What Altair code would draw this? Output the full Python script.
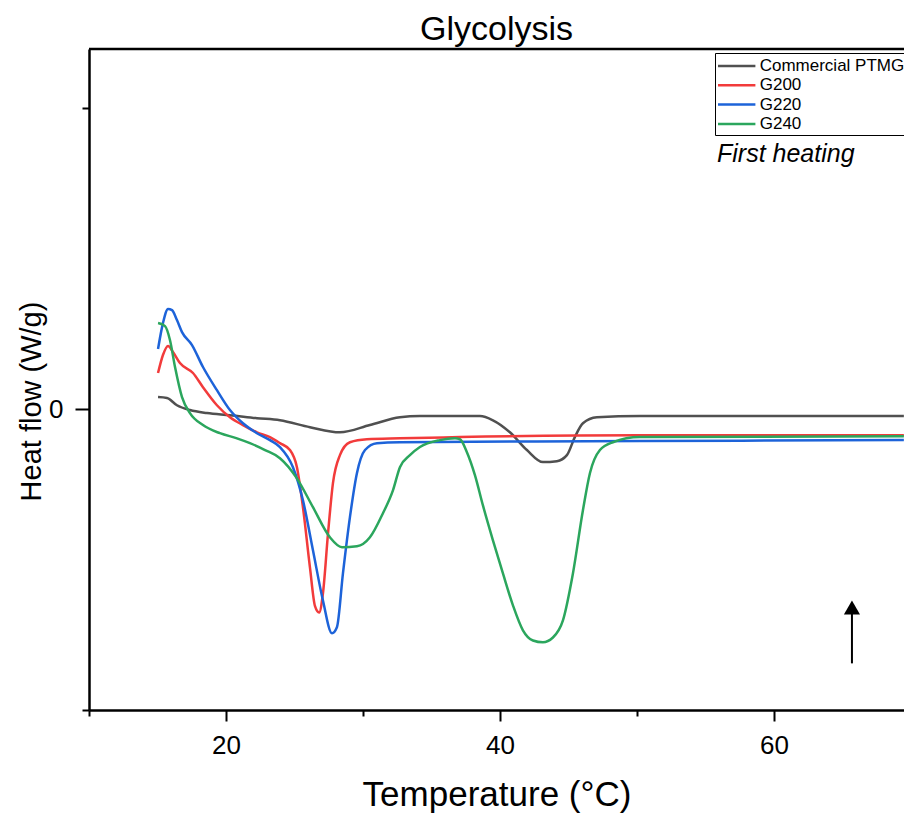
import altair as alt
import pandas as pd

title_text = "Glycolysis"
x_title = "Temperature (°C)"
y_title = "Heat flow (W/g)"
note_text = "First heating"

series_names = ["Commercial PTMG", "G200", "G220", "G240"]
series_colors = ["#505050", "#f23b3b", "#1d63d9", "#2ba65d"]

ptmg_t = [15.04, 15.69, 16.42, 17.37, 18.61, 20.29, 22.26, 23.94, 26.13, 28.32, 30.51, 32.70,
          34.16, 37.08, 38.54, 39.49, 40.73, 41.97, 43.14, 44.16, 44.89, 45.47, 46.06, 47.08,
          50.22, 69.49]
ptmg_hf = [0.040, 0.037, 0.013, -0.003, -0.013, -0.020, -0.030, -0.037, -0.060, -0.077, -0.053,
           -0.027, -0.023, -0.023, -0.023, -0.037, -0.077, -0.136, -0.176, -0.173, -0.153,
           -0.093, -0.047, -0.027, -0.023, -0.023]

g200_t = [15.04, 15.40, 15.77, 16.13, 16.64, 17.59, 18.32, 19.34, 20.29, 21.24, 22.26, 23.21,
          23.94, 24.67, 25.18, 25.62, 26.13, 26.50, 26.80, 27.08, 27.45, 27.81, 28.32, 29.05,
          30.29, 32.70, 37.08, 50.22, 69.49]
g200_hf = [0.120, 0.180, 0.210, 0.190, 0.153, 0.120, 0.073, 0.013, -0.027, -0.053, -0.077,
           -0.093, -0.113, -0.136, -0.193, -0.326, -0.526, -0.655, -0.676, -0.612, -0.413,
           -0.246, -0.153, -0.110, -0.100, -0.097, -0.093, -0.087, -0.087]

g220_t = [15.04, 15.40, 15.77, 16.06, 16.42, 16.79, 17.52, 18.32, 19.34, 20.29, 21.24, 22.26,
          23.21, 23.94, 24.89, 25.62, 26.35, 27.08, 27.74, 28.10, 28.54, 29.05, 29.56, 30.15,
          31.02, 32.70, 50.22, 69.49]
g220_hf = [0.200, 0.286, 0.333, 0.329, 0.296, 0.256, 0.213, 0.140, 0.063, -0.003, -0.047,
           -0.080, -0.103, -0.126, -0.193, -0.303, -0.469, -0.636, -0.745, -0.725, -0.546,
           -0.359, -0.213, -0.136, -0.113, -0.110, -0.106, -0.103]

g240_t = [15.04, 15.55, 15.91, 16.28, 16.79, 17.37, 18.32, 19.56, 20.80, 21.75, 22.85, 23.94,
          25.18, 26.35, 27.59, 28.47, 29.56, 30.51, 31.46, 32.19, 32.70, 33.43, 34.16, 35.62,
          36.72, 37.08, 37.59, 38.18, 38.76, 39.49, 40.22, 40.95, 41.68, 42.41, 43.14, 43.87,
          44.60, 45.33, 46.06, 46.57, 47.30, 48.25, 50.22, 69.49]
g240_hf = [0.286, 0.276, 0.230, 0.140, 0.040, -0.013, -0.053, -0.080, -0.097, -0.113, -0.136,
           -0.163, -0.230, -0.326, -0.426, -0.459, -0.456, -0.426, -0.346, -0.270, -0.193,
           -0.153, -0.126, -0.103, -0.097, -0.100, -0.143, -0.220, -0.320, -0.436, -0.546,
           -0.652, -0.735, -0.769, -0.775, -0.759, -0.702, -0.546, -0.336, -0.213, -0.136,
           -0.110, -0.093, -0.090]

# annotation arrow (data units)
arrow_t = [65.7]
arrow_y_start = [-0.845]
arrow_y_end = [-0.675]
arrow_head_y = [-0.659]

x_domain = [10, 69.5]
y_domain = [-1, 1.197]
x_ticks = [10, 20, 30, 40, 50, 60]
y_ticks = [-1, 0, 1]

rows = []
for name, ts, hs in zip(series_names, [ptmg_t, g200_t, g220_t, g240_t],
                        [ptmg_hf, g200_hf, g220_hf, g240_hf]):
    for i, (t, h) in enumerate(zip(ts, hs)):
        rows.append({"series": name, "T": t, "HF": h, "i": i})
df = pd.DataFrame(rows)

arrow_df = pd.DataFrame({"T": arrow_t, "y1": arrow_y_start, "y2": arrow_y_end, "yh": arrow_head_y})

W, H = 815, 661
FONT = "Liberation Sans"

x_scale = alt.Scale(domain=x_domain, nice=False, zero=False)
y_scale = alt.Scale(domain=y_domain, nice=False, zero=False)

x_axis = alt.Axis(
    title=x_title, values=x_ticks, grid=False,
    labelExpr="datum.value % 20 === 0 ? datum.label : ''",
    tickSize=alt.condition("datum.value % 20 === 0", alt.value(11), alt.value(6)),
    tickWidth=2, tickColor="black", domainColor="black", domainWidth=2.5,
    labelFont=FONT, labelFontSize=26, labelColor="black", labelPadding=11,
    titleFont=FONT, titleFontSize=35, titleFontWeight="normal", titleColor="black",
    titlePadding=19,
)
y_axis = alt.Axis(
    title=y_title, values=y_ticks, grid=False,
    labelExpr="datum.value === 0 ? '0' : ''",
    tickSize=alt.condition("datum.value === 0", alt.value(14), alt.value(7)),
    tickWidth=2, tickColor="black", domainColor="black", domainWidth=2.5,
    labelFont=FONT, labelFontSize=26, labelColor="black", labelPadding=12,
    titleFont=FONT, titleFontSize=29, titleFontWeight="normal", titleColor="black",
    titlePadding=2, titleY=352,
)

lines = alt.Chart(df).mark_line(strokeWidth=2.5, interpolate="monotone").encode(
    x=alt.X("T:Q", scale=x_scale, axis=x_axis),
    y=alt.Y("HF:Q", scale=y_scale, axis=y_axis),
    color=alt.Color(
        "series:N",
        scale=alt.Scale(domain=series_names, range=series_colors),
        legend=alt.Legend(
            title=None, orient="none", legendX=626, legendY=4,
            symbolType="M-2.2,0H2.2", symbolSize=289, symbolStrokeWidth=2.5,
            symbolOffset=8.7, labelOffset=13,
            labelFont=FONT, labelFontSize=17, labelColor="black",
            padding=3, rowPadding=1.3, strokeColor="black", fillColor="white",
        ),
    ),
    order="i:Q",
)

top_rule = alt.Chart(pd.DataFrame({"k": [0]})).mark_rule(color="black", strokeWidth=2.5).encode(
    x=alt.value(0), x2=alt.value(W), y=alt.value(0)
)

note = alt.Chart(pd.DataFrame({"k": [0]})).mark_text(
    text=note_text, font=FONT, fontSize=25, fontStyle="italic", align="left",
    baseline="alphabetic", color="black"
).encode(x=alt.value(628), y=alt.value(113))

arrow_line = alt.Chart(arrow_df).mark_rule(color="black", strokeWidth=2).encode(
    x=alt.X("T:Q", scale=x_scale, axis=x_axis),
    y=alt.Y("y1:Q", scale=y_scale, axis=y_axis),
    y2="y2:Q",
)
arrow_head = alt.Chart(arrow_df).mark_point(
    shape="triangle-up", filled=True, size=260, color="black", opacity=1
).encode(
    x=alt.X("T:Q", scale=x_scale, axis=x_axis),
    y=alt.Y("yh:Q", scale=y_scale, axis=y_axis),
)

chart = alt.layer(lines, top_rule, note, arrow_line, arrow_head).properties(
    width=W, height=H,
    title=alt.TitleParams(title_text, font=FONT, fontSize=34, fontWeight="normal",
                          color="black", anchor="middle", offset=1),
    padding={"left": 89, "top": 49, "right": 0, "bottom": 104},
    autosize=alt.AutoSizeParams(type="none"),
).configure_view(stroke="transparent")

chart.save("out.html", embed_options={"renderer": "svg", "actions": False})
